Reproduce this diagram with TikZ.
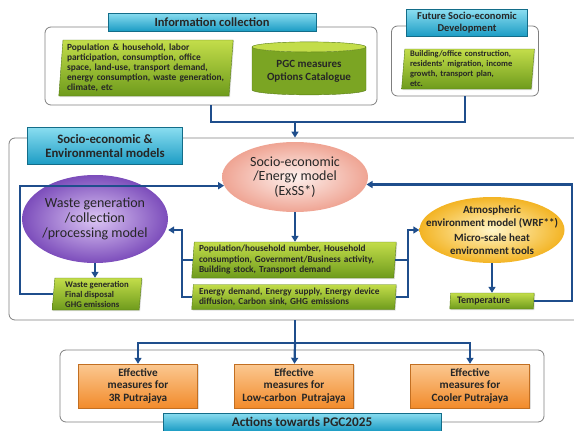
\documentclass[tikz,border=0pt]{standalone}
\usepackage{fontspec}
\setmainfont{Carlito}
\usetikzlibrary{arrows.meta,calc,shapes.geometric,shadows}
\definecolor{ArrowClr}{HTML}{1F4E8C}
\definecolor{FrameClr}{HTML}{7F7F7F}
\definecolor{TitleTop}{HTML}{8ADDF0}
\definecolor{TitleBot}{HTML}{1B9CC4}
\definecolor{LeafTop}{HTML}{C3DD4A}
\definecolor{LeafBot}{HTML}{6E9B1C}
\definecolor{PinkIn}{HTML}{FDF1EE}
\definecolor{PinkOut}{HTML}{EFA493}
\definecolor{PurpleIn}{HTML}{DCC6F4}
\definecolor{PurpleOut}{HTML}{7C4DBB}
\definecolor{GoldIn}{HTML}{FFF6C8}
\definecolor{GoldOut}{HTML}{F3B424}
\definecolor{OrangeTop}{HTML}{FBC891}
\definecolor{OrangeBot}{HTML}{F28B2B}

\begin{document}
\begin{tikzpicture}[x=1pt,y=-1pt,
  frame/.style={draw=FrameClr,line width=0.8pt,rounded corners=6pt,inner sep=0pt},
  title/.style={draw=TitleBot!70!black,line width=0.4pt,top color=TitleTop,bottom color=TitleBot,
    align=center,inner sep=0pt,text=black!85},
  leaf/.style={trapezium,trapezium left angle=85,trapezium right angle=95,trapezium stretches=true,
    top color=LeafTop,bottom color=LeafBot,draw=LeafBot!80!black,line width=0.4pt,
    drop shadow={opacity=0.25,shadow xshift=1pt,shadow yshift=-1pt},
    font=\fontsize{8.7}{10}\selectfont\bfseries,text=black!85,align=left,inner xsep=4pt,inner ysep=0pt},
  model/.style={ellipse,inner sep=0pt},
  measure/.style={rectangle,top color=OrangeTop,bottom color=OrangeBot,draw=OrangeBot!80!black,line width=0.4pt,
    drop shadow={opacity=0.25,shadow xshift=1pt,shadow yshift=-1pt},
    minimum width=119,minimum height=44,align=center,inner sep=0pt,
    font=\fontsize{11.2}{12.5}\selectfont\bfseries,text=black!85},
  link/.style={draw=ArrowClr,line width=2.2pt},
  flow/.style={link,-{Triangle[length=6pt,width=7pt]}}]
\useasboundingbox (0,0) rectangle (574,431);

\node[frame,minimum width=332,minimum height=78] (infoF) at (211,66) {};
\node[frame,minimum width=147,minimum height=70] (futureF) at (465,61) {};
\node[frame,minimum width=576,minimum height=182] (socioF) at (297,229) {};
\node[frame,minimum width=484,minimum height=72] (actF) at (302,386) {};

\node[title,minimum width=208,minimum height=18,font=\fontsize{12.5}{14}\selectfont\bfseries] (infoT) at (212,22) {Information collection};
\node[title,minimum width=121,minimum height=27,font=\fontsize{10.5}{12}\selectfont\bfseries] (futureT) at (467,23) {Future Socio-economic\\Development};
\node[title,minimum width=155,minimum height=37,font=\fontsize{12.8}{14.5}\selectfont\bfseries] (socioT) at (105,146) {Socio-economic \&\\Environmental models};
\node[title,minimum width=278,minimum height=18,font=\fontsize{13.2}{14}\selectfont\bfseries] (actT) at (302,422) {Actions towards PGC2025};

\node[leaf,minimum width=172,minimum height=56,text width=158,font=\fontsize{9.4}{10}\selectfont\bfseries] (survey) at (146,68) {Population \& household, labor\\participation, consumption, office\\space, land-use, transport demand,\\energy consumption, waste generation,\\climate, etc};
\node[cylinder,shape border rotate=90,aspect=0.12,cylinder uses custom fill,cylinder body fill=LeafBot!85!LeafTop,
  cylinder end fill=LeafTop,draw=LeafBot!80!black,line width=0.4pt,minimum width=114,minimum height=53,inner sep=0pt,
  align=center,font=\fontsize{11}{13}\selectfont\bfseries,text=black!85] (pgc) at (309,71) {PGC measures\\Options Catalogue};
\node[leaf,minimum width=133,minimum height=40,text width=116,font=\fontsize{8.5}{10}\selectfont\bfseries] (growth) at (468,69) {Building/office construction,\\residents' migration, income\\growth, transport plan,\\etc.};

\node[model,minimum width=146,minimum height=70,inner color=PinkIn,outer color=PinkOut] (pink) at (295,177) {};
\node[align=center,font=\fontsize{14}{14.5}\selectfont,text=black!85] (pinkTxt) at (pink) {Socio-economic\\/Energy model\\(ExSS*)};
\node[model,minimum width=146,minimum height=88,inner color=PurpleIn,outer color=PurpleOut] (purple) at (95,219) {};
\node[align=center,font=\fontsize{14}{15}\selectfont,text=black!85] (purpleTxt) at (purple) {Waste generation\\/collection\\/processing model};
\node[model,minimum width=145,minimum height=66,inner color=GoldIn,outer color=GoldOut] (gold) at (492,230) {};
\node[align=center,font=\fontsize{11}{13}\selectfont\bfseries,text=black!85] (goldTxt) at (gold) {Atmospheric\\environment model (WRF**)\\[2pt]Micro-scale heat\\environment tools};

\node[leaf,minimum width=205,minimum height=36,text width=190,font=\fontsize{9.3}{10.5}\selectfont\bfseries] (box1) at (294,260) {Population/household number, Household\\consumption, Government/Business activity,\\Building stock, Transport demand};
\node[leaf,minimum width=205,minimum height=25,text width=190,font=\fontsize{9.3}{10.5}\selectfont\bfseries] (box2) at (294,297) {Energy demand, Energy supply, Energy device\\diffusion, Carbon sink, GHG emissions};
\node[leaf,minimum width=90,minimum height=32] (waste) at (97,294) {Waste generation\\Final disposal\\GHG emissions};
\node[leaf,minimum width=85,minimum height=16,text width=70,font=\fontsize{10}{11}\selectfont\bfseries] (temp) at (492,301) {Temperature};

\node[measure] (act1) at (138,386) {Effective\\measures for\\3R Putrajaya};
\node[measure] (act2) at (294,386) {Effective\\measures for\\Low-carbon~~Putrajaya};
\node[measure] (act3) at (470,386) {Effective\\measures for\\Cooler Putrajaya};

\coordinate (merge) at (295,122);
\coordinate (split) at (295,343);
\coordinate (brL) at (182,230);
\coordinate (brR) at (408,230);
\coordinate (loopL) at (20,0);
\coordinate (loopR) at (572,0);

\draw[link] (infoF.south) |- (merge);
\draw[link] (futureF.south) |- (merge);
\draw[flow] (merge) -- (merge |- socioF.north);

\draw[flow] (pink.south) -- (pink.south |- box1.north);
\draw[flow] (purple.south) -- (purple.south |- waste.north);
\draw[flow] (gold.south) -- (gold.south |- temp.north);

\draw[link] (box1.west) -- (box1.west -| brL);
\draw[flow] (box2.west) -| (brL) -- (brL -| purple.east);
\draw[link] (box1.east) -- (box1.east -| brR);
\draw[flow] (box2.east) -| (brR) -- (gold.west);

\draw[flow] (waste.west) -- (waste.west -| loopL) |- (pink.187);
\draw[flow] (temp.east) -- (temp.east -| loopR) |- (pink.-6);

\draw[link] (split |- socioF.south) -- (split);
\draw[flow] (split) -| (act1);
\draw[flow] (split) -- (act2);
\draw[flow] (split) -| (act3);
\end{tikzpicture}
\end{document}
